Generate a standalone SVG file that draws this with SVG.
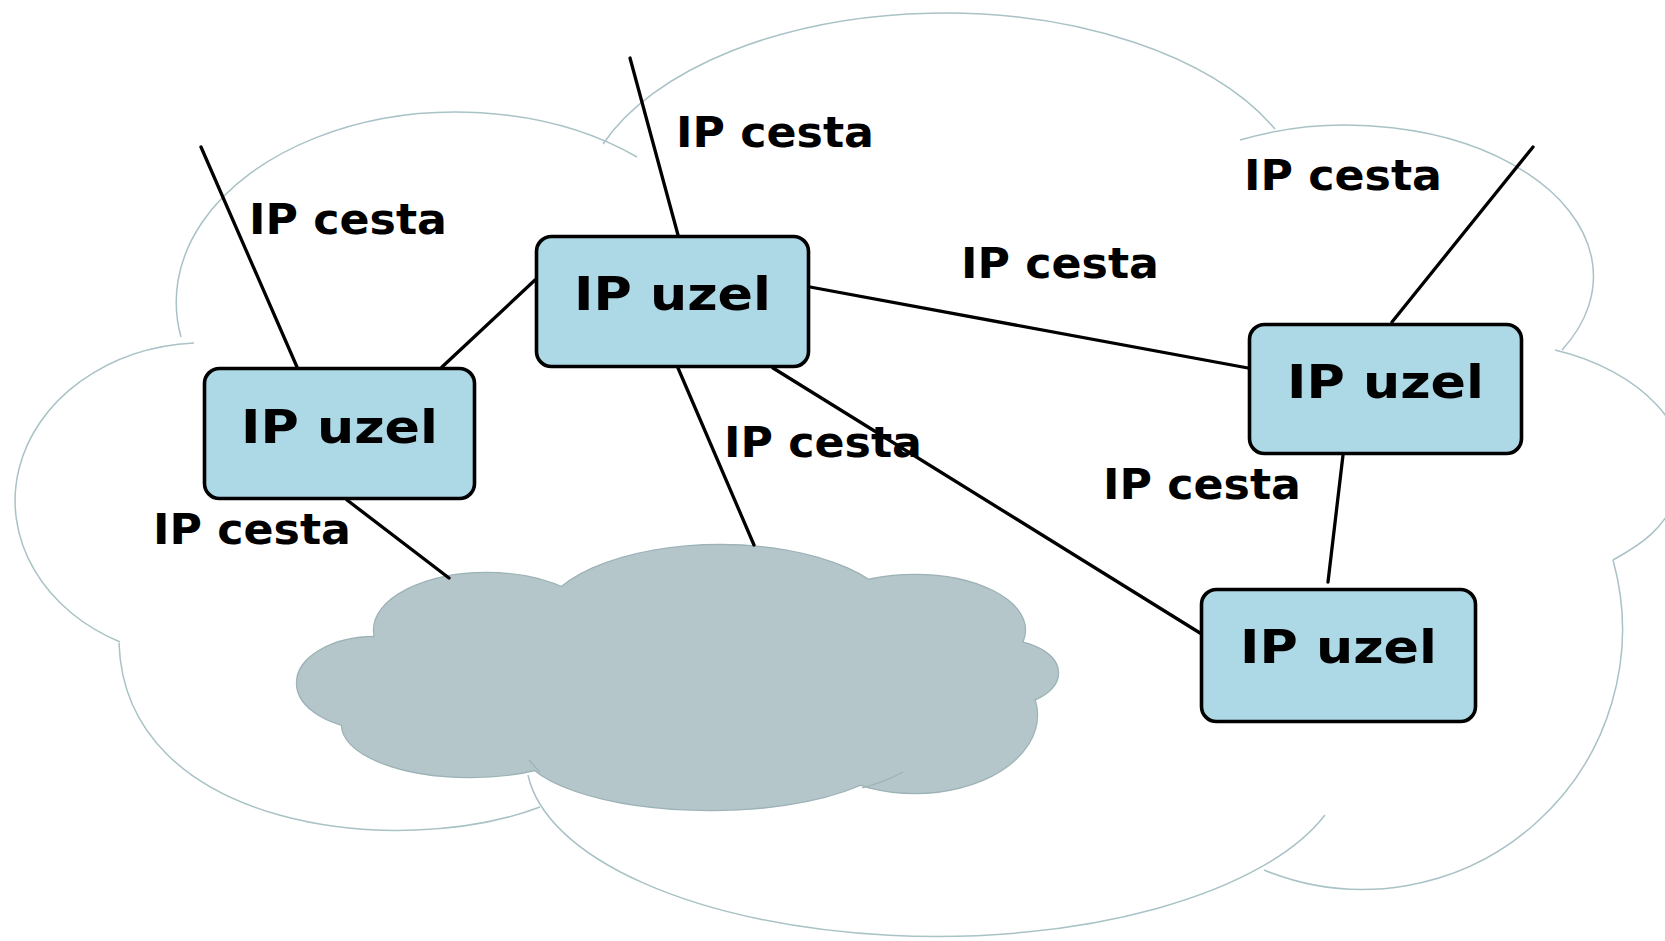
<svg xmlns="http://www.w3.org/2000/svg" xmlns:xlink="http://www.w3.org/1999/xlink" width="1665" height="941" viewBox="0 0 1665 941">
  <style>
    .outline { fill: none; stroke: #a9c2c6; stroke-width: 1.5; }
    .lobe-edge { fill: #b4c6c9; stroke: #9cb2b6; stroke-width: 2.4; }
    .lobe-fill { fill: #b4c6c9; stroke: none; }
    .crease { fill: none; stroke: #9cb2b6; stroke-width: 1.2; }
    .link { stroke: #000; stroke-width: 3.3; stroke-linecap: round; fill: none; }
    .node rect { fill: #add8e6; stroke: #000; stroke-width: 3.6; }
    .node text { font-family: "DejaVu Sans", "Liberation Sans", sans-serif; font-weight: bold; font-size: 47px; text-anchor: middle; fill: #000; }
    .label { font-family: "DejaVu Sans", "Liberation Sans", sans-serif; font-weight: bold; font-size: 42.5px; fill: #000; }
  </style>
  <defs>
    <!-- lobes of the inner (grey) network cloud -->
    <g id="lobes">
      <ellipse cx="720" cy="625" rx="180" ry="80"/>
      <ellipse cx="487" cy="630" rx="113" ry="57"/>
      <ellipse cx="375" cy="683" rx="78" ry="46"/>
      <ellipse cx="470" cy="725" rx="128" ry="52"/>
      <ellipse cx="710" cy="745" rx="190" ry="65"/>
      <ellipse cx="915" cy="630" rx="110" ry="55"/>
      <ellipse cx="1000" cy="673" rx="58" ry="33"/>
      <ellipse cx="915" cy="715" rx="122" ry="78"/>
      <ellipse cx="690" cy="680" rx="300" ry="70"/>
    </g>
  </defs>

  <rect width="1665" height="941" fill="#fff"/>

  <!-- outer cloud, drawn as separate arcs that cross at the cusps -->
  <g id="outer-cloud" class="outline">
    <path d="M181,337 A280,190 0 0 1 637,157"/>
    <path d="M603,144 A365,202 0 0 1 1275,129"/>
    <path d="M1240,140 A247,151 0 0 1 1562,350"/>
    <path d="M1555,350 C1640,370 1700,430 1680,490 C1665,530 1640,545 1613,560"/>
    <path d="M1613,560 A260,260 0 0 1 1264,870"/>
    <path d="M1325,815 A410,178 0 0 1 528,775"/>
    <path d="M540,807 C400,860 125,830 119,643"/>
    <path d="M194,343 A190,158 0 0 0 120,642"/>
  </g>

  <!-- inner cloud -->
  <g id="inner-cloud">
    <use xlink:href="#lobes" class="lobe-edge"/>
    <use xlink:href="#lobes" class="lobe-fill"/>
    <path class="crease" d="M903,772 Q885,782 862,788"/>
    <path class="crease" d="M529,760 Q534,766 540,772"/>
  </g>

  <!-- connectors -->
  <g id="connectors" class="link">
    <line x1="201" y1="147" x2="297" y2="367"/>
    <line x1="630" y1="58" x2="678" y2="235"/>
    <line x1="442" y1="367" x2="535" y2="280"/>
    <line x1="810" y1="287" x2="1248" y2="368"/>
    <line x1="1392" y1="322" x2="1533" y2="147"/>
    <line x1="678" y1="368" x2="754" y2="545"/>
    <line x1="773" y1="368" x2="1200" y2="633"/>
    <line x1="1343" y1="455" x2="1328" y2="582"/>
    <line x1="347" y1="500" x2="449" y2="578"/>
  </g>

  <!-- link labels -->
  <g id="labels">
    <text class="label" x="249" y="234" textLength="198" lengthAdjust="spacingAndGlyphs">IP cesta</text>
    <text class="label" x="676" y="147" textLength="198" lengthAdjust="spacingAndGlyphs">IP cesta</text>
    <text class="label" x="1244" y="190" textLength="198" lengthAdjust="spacingAndGlyphs">IP cesta</text>
    <text class="label" x="961" y="278" textLength="198" lengthAdjust="spacingAndGlyphs">IP cesta</text>
    <text class="label" x="724" y="457" textLength="198" lengthAdjust="spacingAndGlyphs">IP cesta</text>
    <text class="label" x="1103" y="499" textLength="198" lengthAdjust="spacingAndGlyphs">IP cesta</text>
    <text class="label" x="153" y="544" textLength="198" lengthAdjust="spacingAndGlyphs">IP cesta</text>
  </g>

  <!-- routers -->
  <g id="node-left" class="node">
    <rect x="204.5" y="368.5" width="270" height="130" rx="15"/>
    <text x="339.5" y="443" textLength="197" lengthAdjust="spacingAndGlyphs">IP uzel</text>
  </g>
  <g id="node-top" class="node">
    <rect x="536.5" y="236.5" width="272" height="130" rx="15"/>
    <text x="672.5" y="310" textLength="197" lengthAdjust="spacingAndGlyphs">IP uzel</text>
  </g>
  <g id="node-right" class="node">
    <rect x="1249.5" y="324.5" width="272" height="129" rx="15"/>
    <text x="1385.5" y="398" textLength="197" lengthAdjust="spacingAndGlyphs">IP uzel</text>
  </g>
  <g id="node-bottom" class="node">
    <rect x="1201.5" y="589.5" width="274" height="132" rx="15"/>
    <text x="1338.5" y="663" textLength="197" lengthAdjust="spacingAndGlyphs">IP uzel</text>
  </g>
</svg>
